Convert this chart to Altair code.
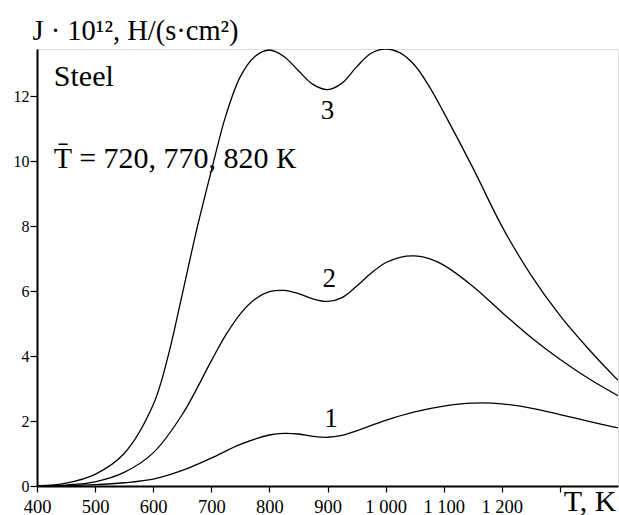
import altair as alt
import pandas as pd

T1 = [400, 450, 500, 550, 600, 650, 700, 750, 800, 825, 850, 875, 900, 925, 950, 1000, 1050, 1100, 1150, 1200, 1250, 1300, 1350, 1400]
J1 = [0, 0.01, 0.04, 0.1, 0.21, 0.48, 0.86, 1.28, 1.57, 1.62, 1.6, 1.53, 1.5, 1.56, 1.7, 2.02, 2.28, 2.46, 2.55, 2.53, 2.4, 2.2, 1.99, 1.79]

T2 = [400, 450, 500, 550, 600, 650, 700, 725, 750, 775, 800, 825, 850, 875, 900, 925, 950, 975, 1000, 1025, 1050, 1075, 1100, 1150, 1200, 1250, 1300, 1350, 1400]
J2 = [0, 0.03, 0.13, 0.42, 1.02, 2.2, 3.85, 4.65, 5.3, 5.75, 5.98, 6.02, 5.92, 5.76, 5.68, 5.8, 6.15, 6.55, 6.87, 7.04, 7.08, 7.0, 6.8, 6.15, 5.35, 4.58, 3.9, 3.3, 2.78]

T3 = [400, 450, 500, 550, 600, 625, 650, 675, 700, 725, 750, 775, 800, 825, 850, 875, 900, 925, 950, 975, 1000, 1025, 1050, 1075, 1100, 1150, 1200, 1250, 1300, 1350, 1400]
J3 = [0, 0.09, 0.36, 1.0, 2.5, 3.95, 5.9, 7.9, 9.7, 11.4, 12.6, 13.22, 13.42, 13.22, 12.78, 12.36, 12.2, 12.4, 12.9, 13.32, 13.45, 13.33, 12.95, 12.3, 11.5, 9.8, 8.0, 6.5, 5.25, 4.2, 3.25]

curve_labels = ["1", "2", "3"]
label_T = [906, 903, 900]
label_J = [2.07, 6.38, 11.53]

note_texts = ["Steel", "T\u0304 = 720, 770, 820 \u041a"]
note_T = [429, 429]
note_J = [12.3, 9.8]

x_ticks = list(range(400, 1400, 50))
y_ticks = [0, 2, 4, 6, 8, 10, 12]

rows = []
for name, ts, js in (("1", T1, J1), ("2", T2, J2), ("3", T3, J3)):
    for t, j in zip(ts, js):
        rows.append({"curve": name, "T": t, "J": j})
df = pd.DataFrame(rows)
lab = pd.DataFrame({"label": curve_labels, "T": label_T, "J": label_J})
notes = pd.DataFrame({"note": note_texts, "T": note_T, "J": note_J})

FONT = "Liberation Serif"

xs = alt.Scale(domain=[400, 1400], nice=False, zero=False)
ys = alt.Scale(domain=[0, 13.45], nice=False)

lines = alt.Chart(df).mark_line(color="black", strokeWidth=1.3, interpolate="catmull-rom", clip=True).encode(
    x=alt.X("T:Q", scale=xs, axis=alt.Axis(
        values=x_ticks, tickSize=6, tickColor="black", tickWidth=1.2,
        domainColor="black", domainWidth=2, grid=False,
        labelExpr="(datum.value % 100 == 0 && datum.value <= 1200) ? replace(format(datum.value, ','), ',', ' ') : ''",
        labelFont=FONT, labelFontSize=18.5, labelColor="black", labelBaseline="alphabetic",
        labelPadding=20, labelOverlap=False, labelFlush=False, labelBound=False,
        title="T, K", titleFont=FONT, titleFontSize=30, titleFontWeight="normal", titleColor="black",
        titleAnchor="end", titleAlign="right", titleX=579, titleY=24, titleBaseline="alphabetic")),
    y=alt.Y("J:Q", scale=ys, axis=alt.Axis(
        values=y_ticks, tickSize=7, tickColor="black", tickWidth=1.2,
        domainColor="black", domainWidth=2, grid=False,
        labelFont=FONT, labelFontSize=16, labelColor="black", labelPadding=1,
        labelBaseline="middle", labelOverlap=False, labelFlush=False, labelBound=False,
        title="J \u00b7 10\u00b9\u00b2, H/(s\u00b7cm\u00b2)", titleFont=FONT, titleFontSize=28.5,
        titleFontWeight="normal", titleColor="black", titleAngle=0, titleAlign="left",
        titleAnchor="start", titleX=-5, titleY=-10, titleBaseline="alphabetic")),
    detail="curve:N",
)

labels = alt.Chart(lab).mark_text(font=FONT, fontSize=27, color="black", baseline="middle", align="center").encode(
    x=alt.X("T:Q", scale=xs), y=alt.Y("J:Q", scale=ys), text="label:N")

note = alt.Chart(notes).mark_text(font=FONT, fontSize=30, color="black", baseline="alphabetic", align="left").encode(
    x=alt.X("T:Q", scale=xs), y=alt.Y("J:Q", scale=ys), text="note:N")

chart = alt.layer(lines, labels, note).properties(
    width=581, height=437,
    padding={"left": 37, "top": 49, "right": 1, "bottom": 29},
    autosize=alt.AutoSizeParams(type="none"),
).configure_view(stroke="black", strokeWidth=1.5).configure_text(font=FONT).configure(background="white", font=FONT)

chart.save("out.html", embed_options={"renderer": "svg", "actions": False})
